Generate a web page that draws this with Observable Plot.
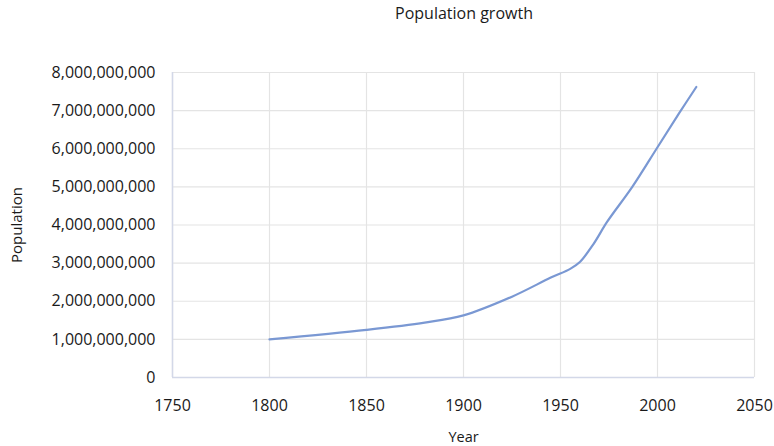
<!DOCTYPE html>
<html>
<head>
<meta charset="utf-8">
<script src="https://cdn.jsdelivr.net/npm/d3@7"></script>
<script src="https://cdn.jsdelivr.net/npm/@observablehq/plot@0.6"></script>
<style>
  body { margin: 0; background: #fff; font-family: "Open Sans", sans-serif; }
  #wrap { position: relative; width: 774px; height: 446px; }
  #title { position: absolute; top: 2px; left: 464px; transform: translateX(-50%); font-size: 16px; color: #1a1a1a; white-space: nowrap; }
  #chart { position: absolute; top: 30px; left: 0; }
</style>
</head>
<body>
<div id="wrap">
  <div id="title">Population growth</div>
  <div id="chart"></div>
</div>
<script>
const years = [1800, 1850, 1880, 1900, 1925, 1945, 1955, 1960, 1967, 1974, 1987, 2000, 2011, 2020];
const population = [1.00e9, 1.25e9, 1.44e9, 1.63e9, 2.12e9, 2.62e9, 2.85e9, 3.03e9, 3.5e9, 4.08e9, 5.0e9, 6.04e9, 6.92e9, 7.62e9];
const xTicks = [1750, 1800, 1850, 1900, 1950, 2000, 2050];
const yTicks = [0, 1e9, 2e9, 3e9, 4e9, 5e9, 6e9, 7e9, 8e9];

const data = years.map((y, i) => ({year: y, pop: population[i]}));

const chart = Plot.plot({
  width: 774,
  height: 416,
  marginTop: 42,
  marginBottom: 69,
  marginLeft: 172,
  marginRight: 20,
  style: {fontFamily: "Open Sans", fontSize: "16px", color: "#1a1a1a", background: "#fff"},
  x: {domain: [1750, 2050]},
  y: {domain: [0, 8e9]},
  marks: [
    Plot.gridX(xTicks, {stroke: "#e4e4e4", strokeOpacity: 1, strokeWidth: 1.2}),
    Plot.gridY(yTicks, {stroke: "#e4e4e4", strokeOpacity: 1, strokeWidth: 1.2}),
    Plot.ruleX([1750], {stroke: "#d3d8e8", strokeWidth: 1.5}),
    Plot.ruleY([0], {stroke: "#d3d8e8", strokeWidth: 1.5}),
    Plot.axisX(xTicks, {tickSize: 0, tickPadding: 22, tickFormat: d3.format("d"), label: "Year", labelAnchor: "center", labelArrow: "none", labelOffset: 64, fontSize: 16}),
    Plot.axisY(yTicks, {tickSize: 0, tickPadding: 17, tickFormat: d3.format(","), label: "Population", labelAnchor: "center", labelArrow: "none", labelOffset: 161, fontSize: 16}),
    Plot.lineY(data, {x: "year", y: "pop", curve: "catmull-rom", stroke: "#7a98d3", strokeWidth: 2.2})
  ]
});
chart.querySelectorAll("[aria-label='x-axis label'] text").forEach(t => t.setAttribute("font-size", "14.5px"));
chart.querySelectorAll("[aria-label='y-axis label'] text").forEach(t => t.setAttribute("font-size", "15px"));
document.getElementById("chart").appendChild(chart);
</script>
</body>
</html>
